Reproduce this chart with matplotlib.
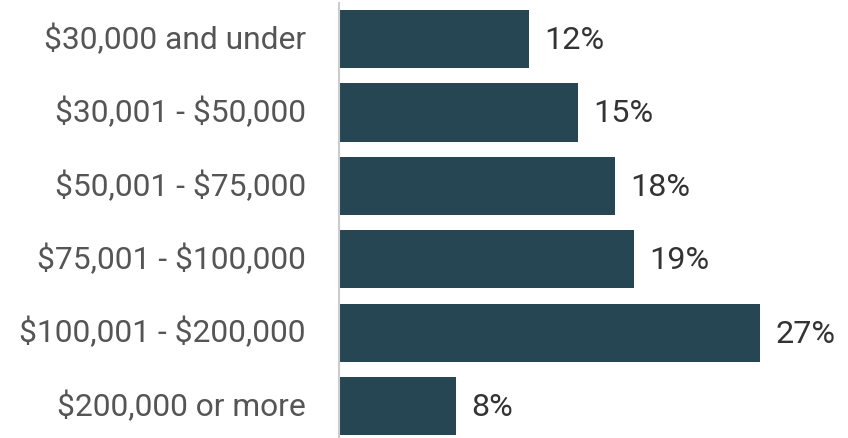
import matplotlib.pyplot as plt

plt.rcParams['font.family'] = ['Roboto', 'DejaVu Sans']
plt.rcParams['text.parse_math'] = False

categories = ["$30,000 and under", "$30,001 - $50,000", "$50,001 - $75,000",
              "$75,001 - $100,000", "$100,001 - $200,000", "$200,000 or more"]
# bar lengths (labels are rounded)
values = [12.2, 15.3, 17.7, 18.9, 27.0, 7.5]
value_labels = ["12%", "15%", "18%", "19%", "27%", "8%"]

fig = plt.figure(figsize=(8.48, 4.38), dpi=100)
ax = fig.add_axes([339 / 848, 0 / 438, 1 - 339 / 848, 435 / 438])

y = list(range(len(categories)))
bars = ax.barh(y, values, height=0.79, color="#264653")

for b, lab in zip(bars, value_labels):
    ax.annotate(lab, (b.get_width(), b.get_y() + b.get_height() / 2),
                xytext=(11, -1), textcoords="offset points",
                ha="left", va="center", fontsize=23.3, color="#333333")

ax.set_xlim(0, 32.65)
ax.set_ylim(5.43, -0.49)
ax.set_yticks(y)
ax.set_yticklabels(categories, fontsize=22.9, color="#555555", va="center")
ax.tick_params(axis="y", length=0, pad=24)
ax.set_xticks([])
for s in ["top", "right", "bottom"]:
    ax.spines[s].set_visible(False)
ax.spines["left"].set_color("#cccccc")
ax.spines["left"].set_linewidth(1.5)

fig.savefig("out.png", dpi=100)
